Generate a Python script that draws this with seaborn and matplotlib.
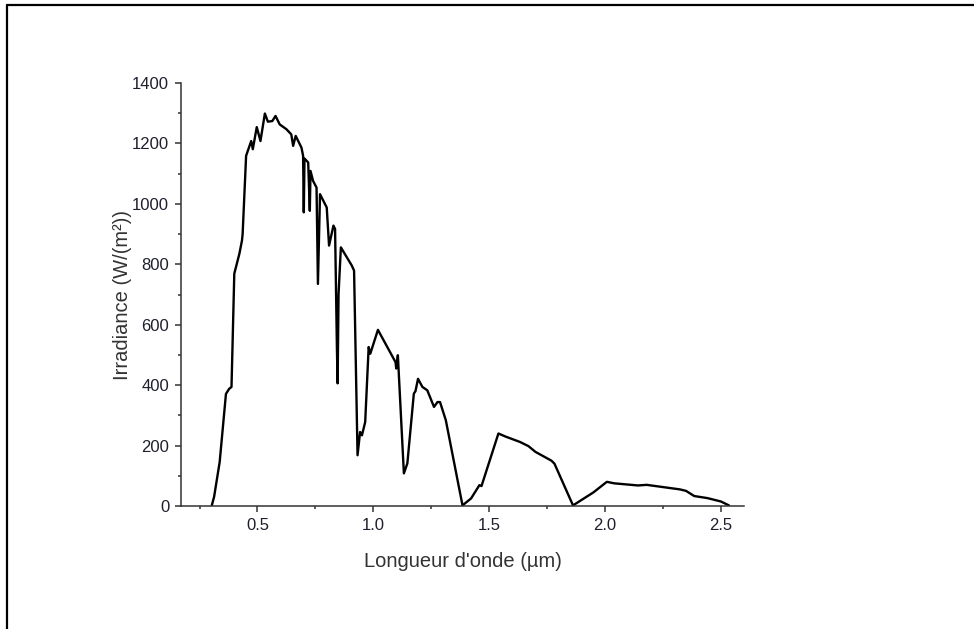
import matplotlib
matplotlib.use("Agg")
import matplotlib.pyplot as plt
import seaborn as sns
import pandas as pd
from matplotlib.lines import Line2D
from matplotlib.ticker import MultipleLocator

# Wavelength (µm)
wavelength = [0.303, 0.313, 0.337, 0.364, 0.378, 0.388, 0.400, 0.422, 0.433, 0.436,
              0.451, 0.473, 0.480, 0.497, 0.513, 0.532, 0.545, 0.564, 0.578, 0.596,
              0.625, 0.646, 0.654, 0.665, 0.690, 0.697, 0.700, 0.703, 0.719, 0.726,
              0.729, 0.740, 0.755, 0.761, 0.770, 0.799, 0.809, 0.828, 0.835, 0.843,
              0.846, 0.850, 0.860, 0.907, 0.917, 0.932, 0.943, 0.951, 0.965, 0.980,
              0.987, 1.020, 1.096, 1.099, 1.106, 1.132, 1.147, 1.175, 1.182, 1.193,
              1.212, 1.233, 1.262, 1.277, 1.288, 1.313, 1.385, 1.422, 1.458, 1.467,
              1.540, 1.570, 1.633, 1.670, 1.700, 1.769, 1.782, 1.862, 1.950, 2.008,
              2.040, 2.142, 2.180, 2.323, 2.350, 2.385, 2.443, 2.500, 2.535]
# Irradiance W/m²
irradiance = [2, 31, 146, 371, 388, 394, 769, 835, 878, 900,
              1159, 1208, 1181, 1254, 1208, 1299, 1272, 1274, 1291, 1263,
              1247, 1230, 1192, 1225, 1186, 1159, 972, 1150, 1137, 977,
              1109, 1076, 1054, 735, 1032, 988, 862, 928, 917, 520,
              406, 700, 856, 796, 779, 168, 245, 234, 278, 526,
              504, 583, 476, 455, 499, 108, 141, 372, 380, 421,
              394, 383, 328, 344, 344, 284, 2, 25, 69, 66,
              240, 230, 212, 198, 179, 150, 140, 2, 45, 80,
              75, 68, 70, 55, 50, 33, 26, 15, 2]

x_ticks = [0.5, 1.0, 1.5, 2.0, 2.5]
y_ticks = [0, 200, 400, 600, 800, 1000, 1200, 1400]
x_label = "Longueur d'onde (µm)"
y_label = "Irradiance (W/(m²))"

df = pd.DataFrame({"wl": wavelength, "irr": irradiance})

sns.set_style("ticks")
plt.rcParams["font.family"] = ["Liberation Sans", "DejaVu Sans"]

fig = plt.figure(figsize=(9.74, 6.29), dpi=100)
ax = fig.add_axes([181 / 974, 1 - 506 / 629, (744 - 181) / 974, (506 - 83) / 629])

sns.lineplot(data=df, x="wl", y="irr", ax=ax, color="black", linewidth=1.7,
             estimator=None, sort=False)

ax.set_xlim(0.17, 2.60)
ax.set_ylim(0, 1400)
ax.set_xticks(x_ticks)
ax.set_xticklabels([f"{t:.1f}" for t in x_ticks])
ax.set_yticks(y_ticks)
ax.set_yticklabels([str(t) for t in y_ticks])
ax.xaxis.set_minor_locator(MultipleLocator(0.25))
ax.yaxis.set_minor_locator(MultipleLocator(100))

spine_col = "#333333"
for s in ["top", "right"]:
    ax.spines[s].set_visible(False)
for s in ["left", "bottom"]:
    ax.spines[s].set_color(spine_col)
    ax.spines[s].set_linewidth(1.1)

ax.tick_params(which="major", direction="out", length=4.5, width=1.1,
               color=spine_col, labelsize=12, labelcolor="#1f1f2e", pad=4)
ax.tick_params(which="minor", direction="out", length=2.5, width=1.1, color=spine_col)

ax.set_xlabel(x_label, fontsize=14.5, color="#333333", labelpad=14)
ax.set_ylabel(y_label, fontsize=14.5, color="#333333", labelpad=0)

# outer frame (top and left edges)
fig.add_artist(Line2D([7 / 974, 1.0], [1 - 5 / 629, 1 - 5 / 629], transform=fig.transFigure,
                      color="black", linewidth=1.6))
fig.add_artist(Line2D([7 / 974, 7 / 974], [0.0, 1 - 5 / 629], transform=fig.transFigure,
                      color="black", linewidth=1.6))

fig.savefig("out.png", dpi=100)
